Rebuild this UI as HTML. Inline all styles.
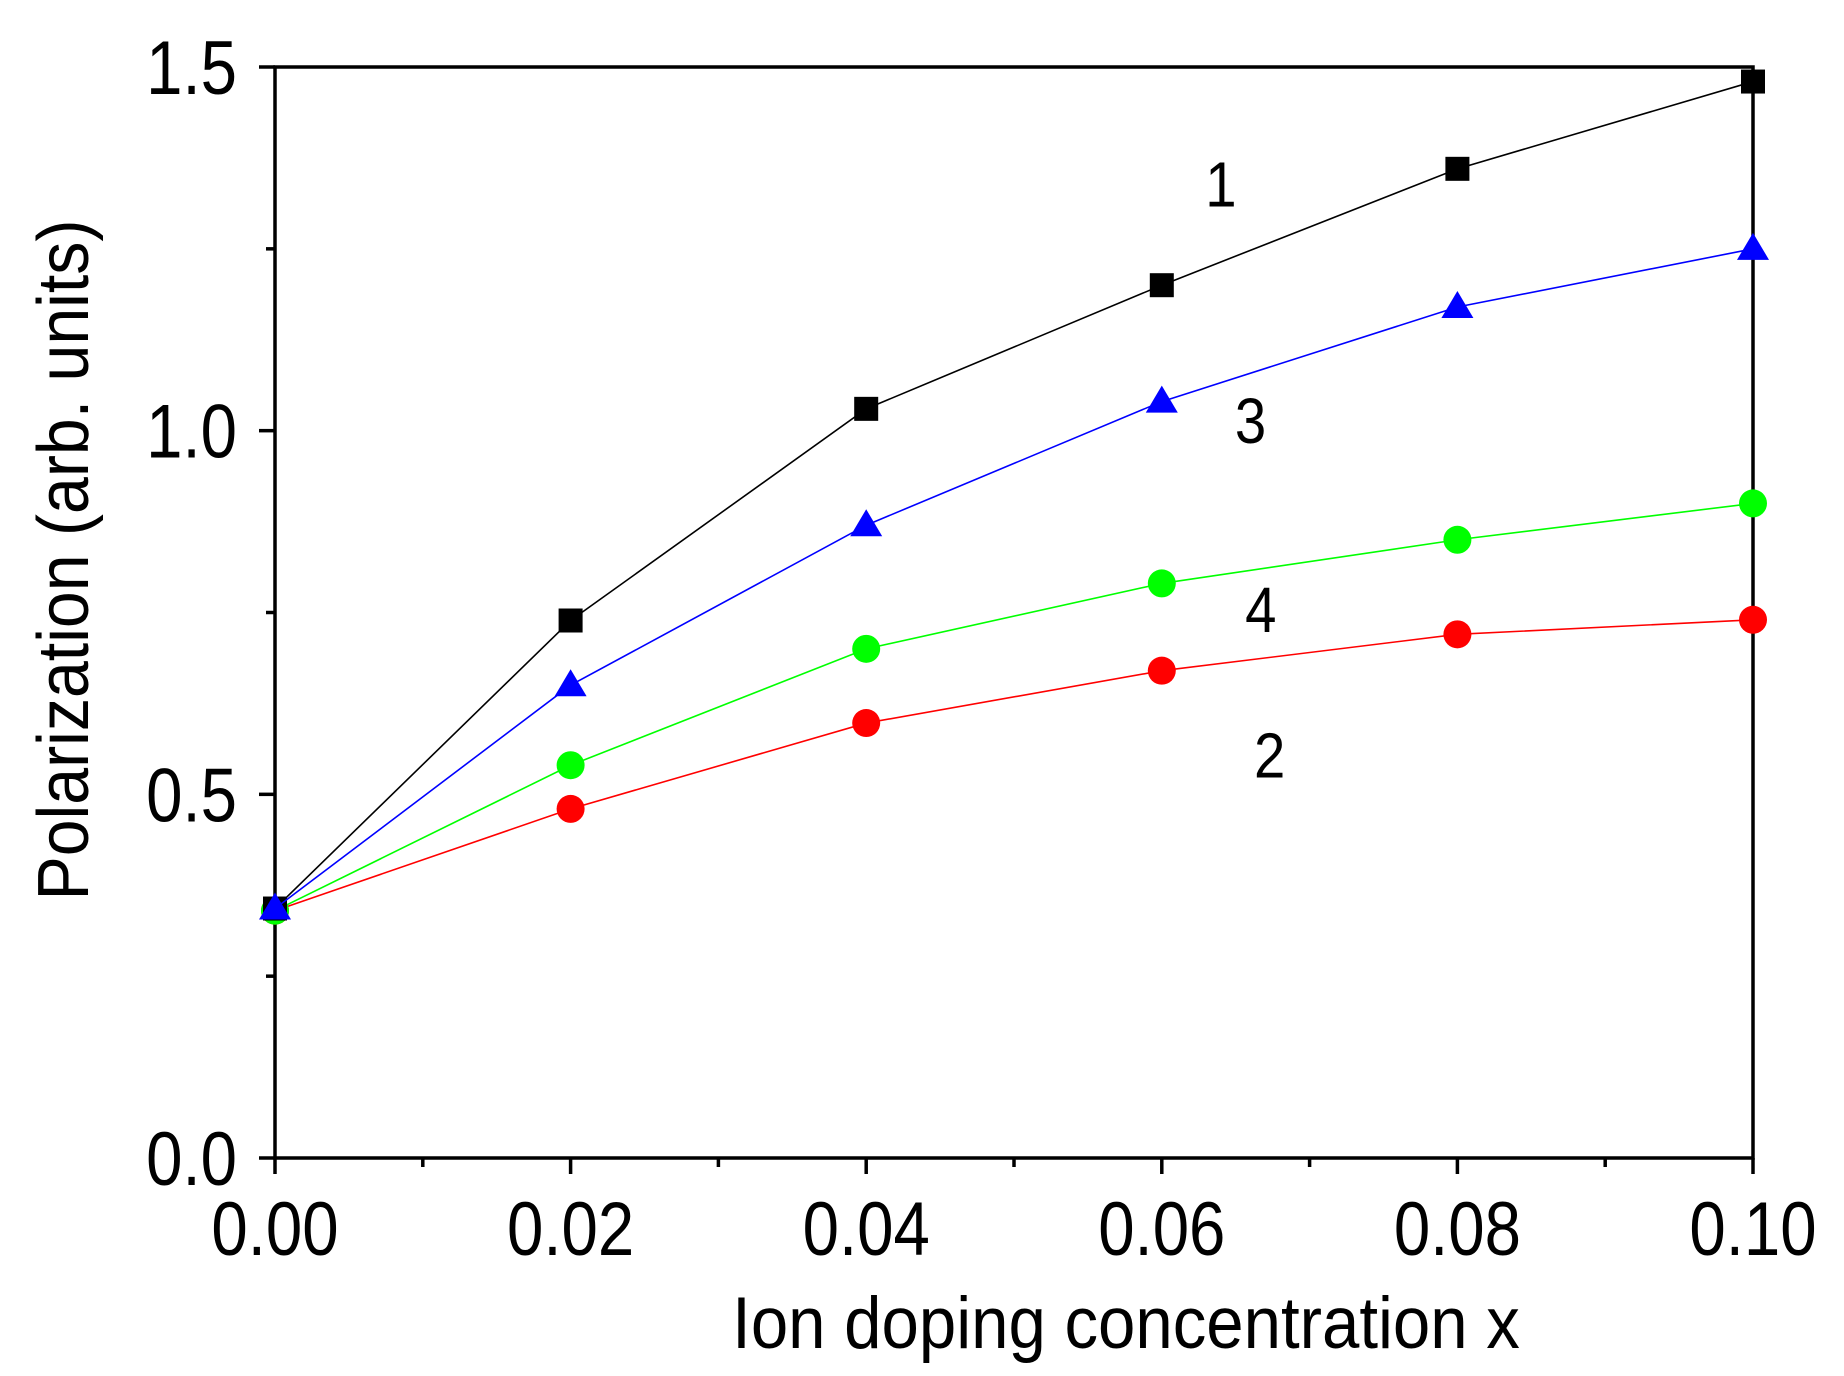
<!DOCTYPE html>
<html><head><meta charset="utf-8"><style>
html,body{margin:0;padding:0;background:#fff}
svg{display:block}
text{font-family:"Liberation Sans",Arial,sans-serif;fill:#000}
</style></head><body>
<svg id="chart" width="1844" height="1376" viewBox="0 0 1844 1376" xmlns="http://www.w3.org/2000/svg">
<g id="axes"></g>
<g id="series"></g>
<text transform="translate(88,560) rotate(-90) scale(0.92,1)" text-anchor="middle" font-size="72">Polarization (arb. units)</text>
<text transform="translate(1126,1348) scale(0.92,1)" text-anchor="middle" font-size="73">Ion doping concentration x</text>
</svg>
<script>
const xValues = [0, 0.02, 0.04, 0.06, 0.08, 0.10];
const series1 = [0.343, 0.739, 1.03, 1.20, 1.36, 1.48];
const series2 = [0.34, 0.48, 0.598, 0.67, 0.72, 0.74];
const series3 = [0.343, 0.65, 0.87, 1.04, 1.17, 1.25];
const series4 = [0.34, 0.54, 0.70, 0.79, 0.85, 0.90];
const xTicks = ["0.00","0.02","0.04","0.06","0.08","0.10"];
const yTicks = ["0.0","0.5","1.0","1.5"];
const curveLabels = [["1",0.064,1.34],["3",0.066,1.015],["4",0.0667,0.755],["2",0.0673,0.555]];

const X0=275, X1=1753, Y0=1158, Y1=67;
const xs = v => X0 + (v-0)/(0.10)*(X1-X0);
const ys = v => Y0 - v/1.5*(Y0-Y1);
const NS="http://www.w3.org/2000/svg";
function mk(tag, attrs, parent){const e=document.createElementNS(NS,tag);for(const k in attrs)e.setAttribute(k,attrs[k]);parent.appendChild(e);return e;}
const axes=document.getElementById('axes'), sg=document.getElementById('series');

const frame=mk('rect',{x:X0,y:Y1,width:X1-X0,height:Y0-Y1,fill:'none',stroke:'#000','stroke-width':3.5},axes);



for(let i=0;i<=10;i++){
  const v=i*0.01, x=xs(v), major=i%2===0;
  const t=mk('line',{x1:x,x2:x,y1:Y0,y2:Y0+(major?16:9),stroke:'#000','stroke-width':3.5},axes);
  
  
}
xTicks.forEach((lab,i)=>{
  const t=mk('text',{transform:`translate(${xs(xValues[i])},1255) scale(0.86,1)`,'text-anchor':'middle','font-size':76},axes);
  t.textContent=lab;
  
  
});
for(let i=0;i<=6;i++){
  const v=i*0.25, y=ys(v), major=i%2===0;
  const t=mk('line',{x1:X0-(major?16:9),x2:X0,y1:y,y2:y,stroke:'#000','stroke-width':3.5},axes);
  
  
}
yTicks.forEach((lab,i)=>{
  const t=mk('text',{transform:`translate(237,${ys(parseFloat(lab))+27}) scale(0.86,1)`,'text-anchor':'end','font-size':76},axes);
  t.textContent=lab;
  
  
});

const defs=[[series2,'#ff0000','circle','series-2'],[series4,'#00ff00','circle','series-4'],[series1,'#000','square','series-1'],[series3,'#0000ff','triangle','series-3']];
defs.forEach(([vals,col,shape,name])=>{
  const pts=vals.map((v,i)=>xs(xValues[i])+','+ys(v)).join(' ');
  const pl=mk('polyline',{points:pts,fill:'none',stroke:col,'stroke-width':1.6},sg);
  
  
  vals.forEach((v,i)=>{
    const x=xs(xValues[i]), y=ys(v); let m;
    if(shape==='square') m=mk('rect',{x:x-12,y:y-12,width:24,height:24,fill:col},sg);
    else if(shape==='triangle') m=mk('polygon',{points:`${x},${y-16} ${x-16},${y+11} ${x+16},${y+11}`,fill:col},sg);
    else m=mk('circle',{cx:x,cy:y,r:14,fill:col},sg);
    
    
  });
});
curveLabels.forEach(([lab,xv,yv])=>{
  const t=mk('text',{transform:`translate(${xs(xv)},${ys(yv)+23}) scale(0.88,1)`,'text-anchor':'middle','font-size':64},sg);
  t.textContent=lab;
  
  
});
</script>
</body></html>
